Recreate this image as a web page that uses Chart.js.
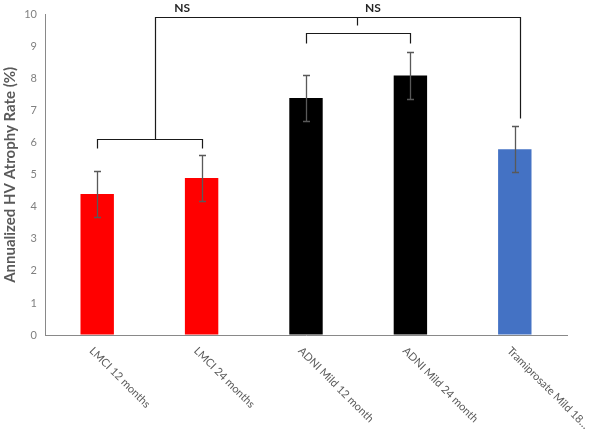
<!DOCTYPE html>
<html><head><meta charset="utf-8">
<script src="https://cdn.jsdelivr.net/npm/chart.js@4"></script>
<style>html,body{margin:0;padding:0;background:#fff}#wrap{width:600px;height:435px;position:relative}</style>
</head><body><div id="wrap"><canvas id="c" width="600" height="435"></canvas></div>
<script>
// ---- data ----
const categories = ['LMCI 12 months', 'LMCI 24 months', 'ADNI Mild 12 month', 'ADNI Mild 24 month', 'Tramiprosate Mild 18\u2026'];
const values = [4.4, 4.9, 7.4, 8.1, 5.8];
const errors = [0.71, 0.71, 0.71, 0.72, 0.72];
const barColors = ['#FF0000', '#FF0000', '#000000', '#000000', '#4472C4'];
const yTicks = [0, 1, 2, 3, 4, 5, 6, 7, 8, 9, 10];
const significanceLabels = ['NS', 'NS'];

// ---- annotation layout (category index / value units) ----
const bracketLMCI = {from: 0, to: 1, level: 6.13, leg: 5.84};
const bracketADNI = {from: 2, to: 3, level: 9.43, leg: 9.12};
const topLink = {from: 0.55, to: 4.05, level: 9.94, rightLeg: 6.76, tickAt: 2.49, tickEnd: 9.69};
const nsPositions = [{x: 0.815, y: 10.2}, {x: 2.64, y: 10.2}];

const FONT = 'Lato, "Open Sans", sans-serif';

const overlay = {
  id: 'overlay',
  afterDatasetsDraw(chart) {
    const {ctx, scales: {x, y}} = chart;
    const px = v => Math.round(x.getPixelForValue(v)) + 0.5;
    const py = v => Math.round(y.getPixelForValue(v)) + 0.5;
    ctx.save();
    // error bars
    ctx.strokeStyle = '#595959';
    ctx.lineWidth = 1.3;
    values.forEach((v, i) => {
      const cx = px(i), t = py(v + errors[i]), b = py(v - errors[i]);
      ctx.beginPath();
      ctx.moveTo(cx, t); ctx.lineTo(cx, b);
      ctx.moveTo(cx - 3.5, t); ctx.lineTo(cx + 3.5, t);
      ctx.moveTo(cx - 3.5, b); ctx.lineTo(cx + 3.5, b);
      ctx.stroke();
    });
    // brackets
    ctx.strokeStyle = '#1a1a1a';
    ctx.lineWidth = 1.2;
    ctx.beginPath();
    [bracketLMCI, bracketADNI].forEach(br => {
      ctx.moveTo(px(br.from), py(br.leg));
      ctx.lineTo(px(br.from), py(br.level));
      ctx.lineTo(px(br.to), py(br.level));
      ctx.lineTo(px(br.to), py(br.leg));
    });
    ctx.moveTo(px(topLink.from), py(bracketLMCI.level));
    ctx.lineTo(px(topLink.from), py(topLink.level));
    ctx.lineTo(px(topLink.to), py(topLink.level));
    ctx.lineTo(px(topLink.to), py(topLink.rightLeg));
    ctx.moveTo(px(topLink.tickAt), py(topLink.level));
    ctx.lineTo(px(topLink.tickAt), py(topLink.tickEnd));
    ctx.stroke();
    // NS labels
    ctx.fillStyle = '#262626';
    ctx.font = 'bold 12px ' + FONT;
    ctx.textAlign = 'center';
    ctx.textBaseline = 'middle';
    nsPositions.forEach((p, i) => ctx.fillText(significanceLabels[i], x.getPixelForValue(p.x), y.getPixelForValue(p.y)));
    ctx.restore();
  },
  afterDraw(chart) {
    const {ctx, scales: {x}, chartArea} = chart;
    ctx.save();
    ctx.fillStyle = '#595959';
    ctx.font = '11px ' + FONT;
    ctx.textAlign = 'left';
    ctx.textBaseline = 'top';
    categories.forEach((c, i) => {
      ctx.save();
      ctx.translate(x.getPixelForValue(i) - 2, chartArea.bottom + 10);
      ctx.rotate(Math.PI / 4);
      ctx.fillText(c, 0, 0);
      ctx.restore();
    });
    ctx.restore();
  }
};

new Chart(document.getElementById('c'), {
  type: 'bar',
  data: {
    labels: categories,
    datasets: [{data: values, backgroundColor: barColors, borderWidth: 0, barPercentage: 0.32, categoryPercentage: 1}]
  },
  options: {
    responsive: false,
    animation: false,
    devicePixelRatio: 1,
    layout: {padding: {top: 14, right: 33, bottom: 100, left: 0}},
    plugins: {legend: {display: false}, tooltip: {enabled: false}},
    scales: {
      x: {
        offset: true,
        ticks: {display: false},
        grid: {display: true, drawOnChartArea: false, drawTicks: false},
        border: {color: '#898989', width: 1}
      },
      y: {
        min: 0, max: 10,
        afterBuildTicks: s => { s.ticks = yTicks.map(v => ({value: v})); },
        ticks: {color: '#808080', font: {size: 11, family: FONT}, padding: 8},
        grid: {display: true, drawOnChartArea: false, drawTicks: false},
        border: {color: '#898989', width: 1},
        title: {display: true, text: 'Annualized HV Atrophy Rate (%)', color: '#595959',
                font: {size: 15, weight: 'bold', family: FONT}, padding: {top: 1, bottom: 2}},
        afterFit: s => { s.width = 45; }
      }
    }
  },
  plugins: [overlay]
});
</script></body></html>
